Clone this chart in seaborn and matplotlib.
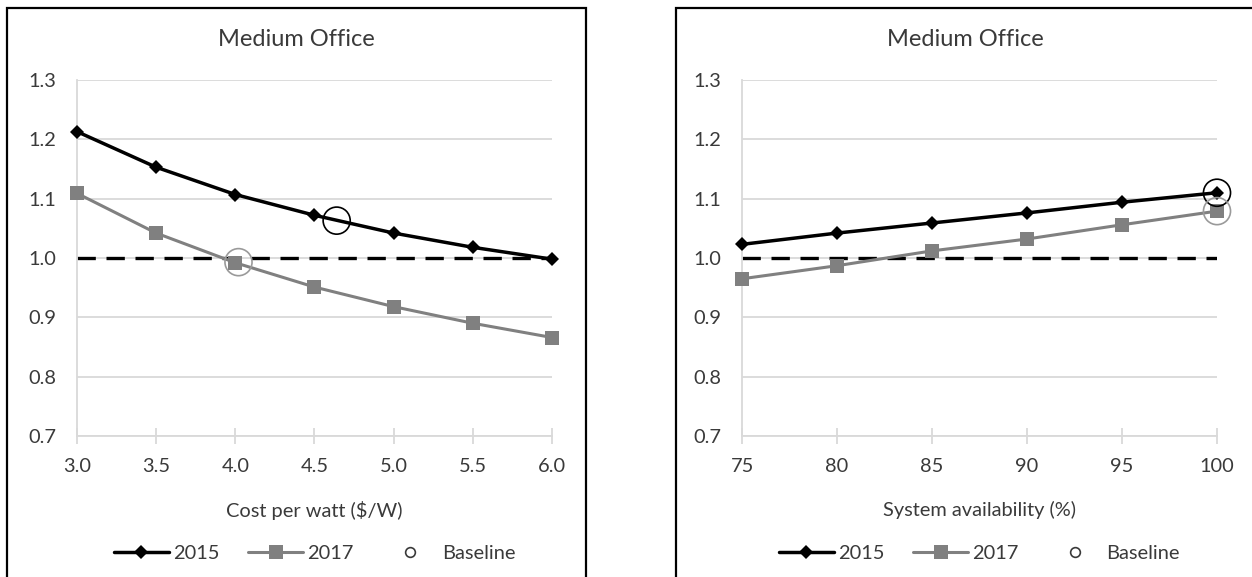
import matplotlib
matplotlib.use("Agg")
import matplotlib.pyplot as plt
from matplotlib.lines import Line2D
from matplotlib.patches import Rectangle
from matplotlib.ticker import FormatStrFormatter
import numpy as np
import pandas as pd
import seaborn as sns

# ---- data -------------------------------------------------------------
cost_per_watt = [3.0, 3.5, 4.0, 4.5, 5.0, 5.5, 6.0]
cost_2015 = [1.213, 1.153, 1.107, 1.072, 1.042, 1.018, 0.998]
cost_2017 = [1.109, 1.042, 0.992, 0.951, 0.918, 0.890, 0.866]
cost_baseline_x = [4.64, 4.02]
cost_baseline_y = [1.063, 0.993]

availability = [75, 80, 85, 90, 95, 100]
avail_2015 = [1.023, 1.042, 1.059, 1.076, 1.094, 1.110]
avail_2017 = [0.965, 0.987, 1.012, 1.032, 1.056, 1.079]
avail_baseline_x = [100, 100]
avail_baseline_y = [1.110, 1.079]

parity = 1.0
y_ticks = [0.7, 0.8, 0.9, 1.0, 1.1, 1.2, 1.3]
cost_ticks = [3.0, 3.5, 4.0, 4.5, 5.0, 5.5, 6.0]
avail_ticks = [75, 80, 85, 90, 95, 100]
series_labels = ["2015", "2017", "Baseline"]
title = "Medium Office"

# ---- style ------------------------------------------------------------
sns.set_theme(style="white")
plt.rcParams["font.family"] = ["Lato", "DejaVu Sans"]
TXT = "#3a3a3a"
GRID = "#d9d9d9"
C15 = "black"
C17 = "#808080"
CBASE17 = "#9a9a9a"
FS = 14.4

fig = plt.figure(figsize=(12.52, 5.77), dpi=100)
W, H = 1252, 577


def panel(x0px, xs, y15, y17, bx, by, xticks, fmt, xlabel, xlim):
    ax = fig.add_axes([x0px / W, 1 - 436 / H, 475 / W, 356 / H])
    df15 = pd.DataFrame({"x": xs, "y": y15})
    df17 = pd.DataFrame({"x": xs, "y": y17})
    # parity reference
    ax.plot(xlim, [parity, parity], color="black", lw=2.4,
            dashes=(5.5, 3.2), zorder=2)
    sns.lineplot(data=df17, x="x", y="y", ax=ax, color=C17, lw=2.2,
                 marker="s", markersize=10.5, markeredgewidth=0,
                 markerfacecolor=C17, zorder=3, clip_on=False)
    sns.lineplot(data=df15, x="x", y="y", ax=ax, color=C15, lw=2.5,
                 marker="D", markersize=7.5, markeredgewidth=0,
                 markerfacecolor=C15, zorder=4, clip_on=False)
    ax.scatter(bx[:1], by[:1], s=380, facecolors="none",
               edgecolors="black", linewidths=1.2, zorder=5, clip_on=False)
    ax.scatter(bx[1:], by[1:], s=380, facecolors="none",
               edgecolors=CBASE17, linewidths=1.2, zorder=5, clip_on=False)

    ax.set_xlim(xlim)
    ax.set_ylim(0.7, 1.3)
    ax.set_xticks(xticks)
    ax.set_yticks(y_ticks)
    ax.xaxis.set_major_formatter(FormatStrFormatter(fmt))
    ax.yaxis.set_major_formatter(FormatStrFormatter("%.1f"))
    ax.grid(axis="y", color=GRID, lw=1.3)
    ax.set_axisbelow(True)
    for s in ["top", "right"]:
        ax.spines[s].set_visible(False)
    for s in ["left", "bottom"]:
        ax.spines[s].set_color(GRID)
        ax.spines[s].set_linewidth(1.3)
    ax.tick_params(axis="x", direction="inout", length=12, width=1.3,
                   color=GRID, bottom=True, labelsize=FS,
                   labelcolor=TXT, pad=10)
    ax.tick_params(axis="y", length=0, labelsize=FS, labelcolor=TXT, pad=15)
    ax.set_ylabel("")
    ax.set_xlabel(xlabel, fontsize=FS, color=TXT, va="center")
    ax.xaxis.set_label_coords(0.5, -0.208)

    handles = [
        Line2D([], [], color=C15, lw=2.5, marker="D", markersize=7.5,
               markeredgewidth=0),
        Line2D([], [], color=C17, lw=2.2, marker="s", markersize=10.5,
               markeredgewidth=0),
        Line2D([], [], color="none", marker="o", markersize=7,
               markerfacecolor="none", markeredgecolor=TXT,
               markeredgewidth=1.2),
    ]
    ax.legend(handles, series_labels, loc="center",
              bbox_to_anchor=(0.5, -0.329), ncol=3, frameon=False,
              fontsize=FS, handlelength=2.75, handletextpad=0.2,
              columnspacing=1.45, labelcolor=TXT)
    return ax


panel(77, cost_per_watt, cost_2015, cost_2017, cost_baseline_x,
      cost_baseline_y, cost_ticks, "%.1f", "Cost per watt ($/W)", (3.0, 6.0))
panel(742, availability, avail_2015, avail_2017, avail_baseline_x,
      avail_baseline_y, avail_ticks, "%d", "System availability (%)",
      (75, 100))

# chart titles and chart-area borders
fig.text(296.5 / W, 1 - 39 / H, title, ha="center", va="center",
         fontsize=17, color=TXT)
fig.text(965 / W, 1 - 39 / H, title, ha="center", va="center",
         fontsize=17, color=TXT)
fig.add_artist(Rectangle((7 / W, -0.02), 579 / W, 1.02 - 8 / H,
                         transform=fig.transFigure, fill=False,
                         edgecolor="black", lw=1.6))
fig.add_artist(Rectangle((676 / W, -0.02), 600 / W, 1.02 - 8 / H,
                         transform=fig.transFigure, fill=False,
                         edgecolor="black", lw=1.6, clip_on=False))

fig.savefig("out.png", dpi=100)
